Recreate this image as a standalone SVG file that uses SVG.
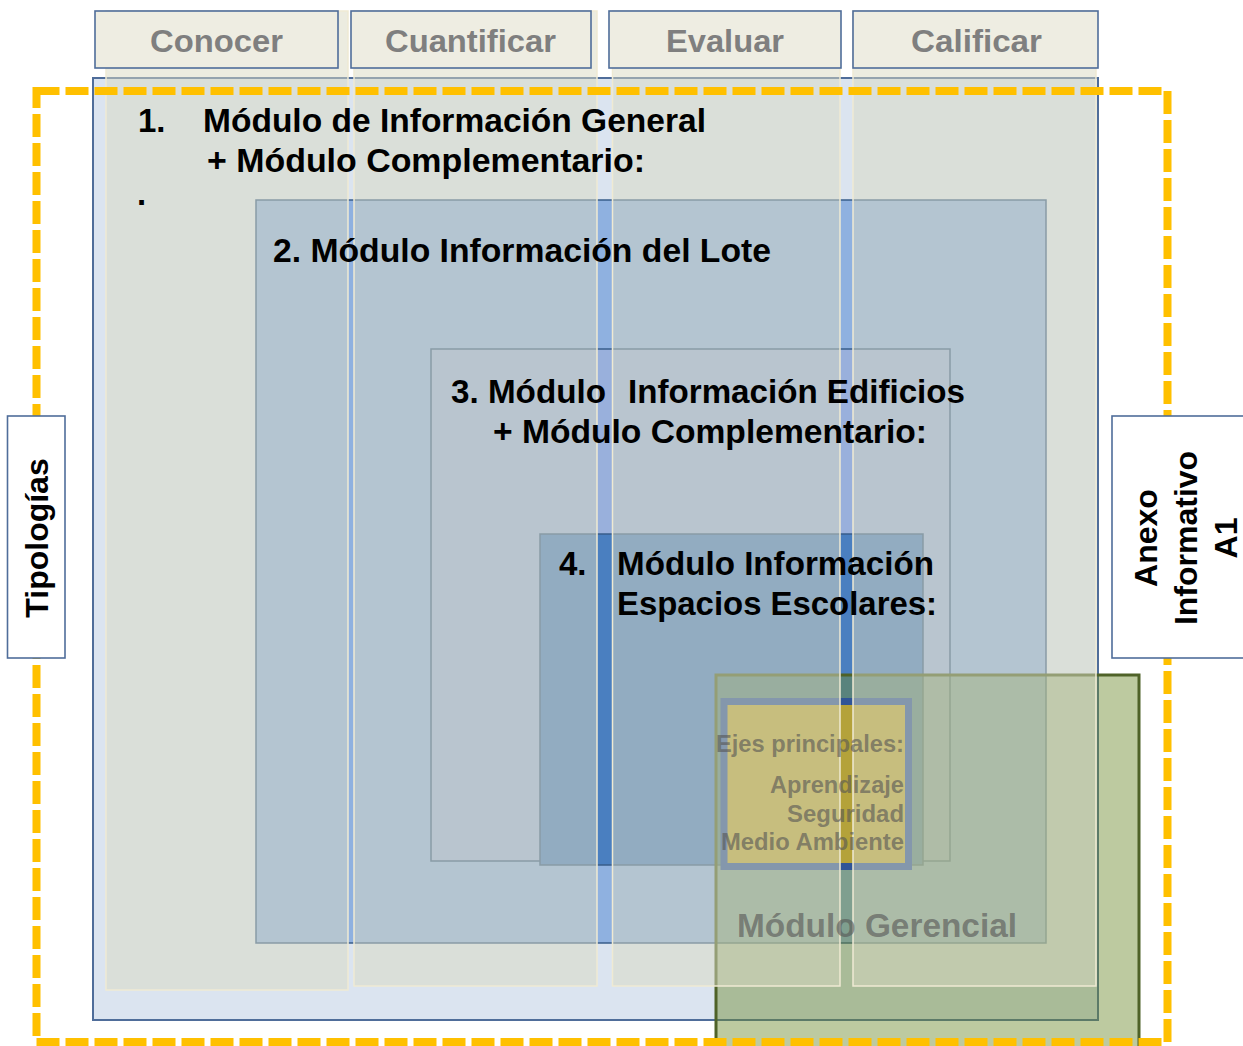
<svg xmlns="http://www.w3.org/2000/svg" width="1243" height="1046" viewBox="0 0 1243 1046">
<defs>
<style>
.hdr{fill:#eeede2;stroke:#4f6d9a;stroke-width:1.6}
.hdrt{font-family:"Liberation Sans",Arial,sans-serif;font-weight:bold;font-size:32px;fill:#7f7f7f}
.mod{stroke:#385d8a;stroke-width:1.5}
.col{fill:#d9dac2;fill-opacity:0.5;stroke:#efead3;stroke-width:1.5}
.t{font-family:"Liberation Sans",Arial,sans-serif;font-weight:bold;font-size:33px;fill:#000}
.g{font-family:"Liberation Sans",Arial,sans-serif;font-weight:bold;fill:#555;fill-opacity:0.62}
.side{fill:#fff;stroke:#4f6d9a;stroke-width:1.6}
.st{font-family:"Liberation Sans",Arial,sans-serif;font-weight:bold;font-size:32px;fill:#000;text-anchor:middle}
</style>
</defs>
<rect width="1243" height="1046" fill="#fff"/>

<g id="module1">
<rect x="93" y="78" width="1005" height="942" fill="#dbe4f0" stroke="#4f6d9a" stroke-width="2"/>
</g>
<g id="module2">
<rect class="mod" x="256" y="200" width="790" height="743" fill="#8fb1e0"/>
</g>
<g id="module3">
<rect class="mod" x="431" y="349" width="519" height="512" fill="#99b0dc"/>
</g>
<g id="module4">
<rect class="mod" x="540" y="534" width="383" height="331" fill="#4a7fc0"/>
</g>
<g id="modulo-gerencial">
<rect x="716" y="675" width="423" height="385" fill="#6c892c" fill-opacity="0.45" stroke="#4f6228" stroke-width="3"/>
</g>
<g id="ejes-principales">
<rect x="724" y="701.5" width="184.5" height="165" fill="#b4a23a" stroke="#2f5496" stroke-width="7"/>
</g>

<g id="columns">
<rect class="col" x="106" y="11" width="242" height="979"/>
<rect class="col" x="354" y="11" width="243" height="975"/>
<rect class="col" x="612.5" y="11" width="227.5" height="975"/>
<rect class="col" x="853" y="11" width="243" height="975"/>
</g>

<g id="headers">
<g id="hdr-conocer"><rect class="hdr" x="95" y="11" width="243" height="57"/><text class="hdrt" x="150" y="52" textLength="133" lengthAdjust="spacingAndGlyphs">Conocer</text></g>
<g id="hdr-cuantificar"><rect class="hdr" x="351" y="11" width="240" height="57"/><text class="hdrt" x="385" y="52" textLength="171" lengthAdjust="spacingAndGlyphs">Cuantificar</text></g>
<g id="hdr-evaluar"><rect class="hdr" x="609" y="11" width="232" height="57"/><text class="hdrt" x="666" y="52" textLength="118" lengthAdjust="spacingAndGlyphs">Evaluar</text></g>
<g id="hdr-calificar"><rect class="hdr" x="853" y="11" width="245" height="57"/><text class="hdrt" x="911" y="52" textLength="131" lengthAdjust="spacingAndGlyphs">Calificar</text></g>
</g>

<g id="module-labels">
<text class="t" x="138" y="132">1.</text>
<text class="t" x="203" y="132" textLength="503" lengthAdjust="spacingAndGlyphs">Módulo de Información General</text>
<text class="t" x="207" y="172" textLength="438" lengthAdjust="spacingAndGlyphs">+ Módulo Complementario:</text>
<text class="t" x="137" y="205" font-size="26">.</text>
<text class="t" x="273" y="262" textLength="498" lengthAdjust="spacingAndGlyphs">2. Módulo Información del Lote</text>
<text class="t" x="451" y="403" textLength="155" lengthAdjust="spacingAndGlyphs">3. Módulo</text>
<text class="t" x="628" y="403" textLength="337" lengthAdjust="spacingAndGlyphs">Información Edificios</text>
<text class="t" x="493" y="443" textLength="434" lengthAdjust="spacingAndGlyphs">+ Módulo Complementario:</text>
<text class="t" x="559" y="575">4.</text>
<text class="t" x="617" y="575" textLength="317" lengthAdjust="spacingAndGlyphs">Módulo Información</text>
<text class="t" x="617" y="615" textLength="320" lengthAdjust="spacingAndGlyphs">Espacios Escolares:</text>
</g>

<g id="gerencial-labels">
<text class="g" font-size="23" x="716" y="752" textLength="188" lengthAdjust="spacingAndGlyphs">Ejes principales:</text>
<text class="g" font-size="23" x="770" y="793" textLength="134" lengthAdjust="spacingAndGlyphs">Aprendizaje</text>
<text class="g" font-size="23" x="787" y="822" textLength="117" lengthAdjust="spacingAndGlyphs">Seguridad</text>
<text class="g" font-size="23" x="721" y="850" textLength="183" lengthAdjust="spacingAndGlyphs">Medio Ambiente</text>
<text class="g" font-size="33" x="737" y="937" textLength="280" lengthAdjust="spacingAndGlyphs">Módulo Gerencial</text>
</g>

<g id="connectors"></g>

<g id="boundary">
<rect x="36.5" y="91" width="1131" height="951" fill="none" stroke="#ffc000" stroke-width="8" stroke-dasharray="23 6"/>
</g>

<g id="tipologias">
<rect class="side" x="7.5" y="416" width="57.5" height="242"/>
<text class="st" transform="translate(48,538) rotate(-90)">Tipologías</text>
</g>
<g id="anexo">
<rect class="side" x="1112" y="416" width="140" height="242"/>
<text class="st" transform="translate(1157,538) rotate(-90)">Anexo</text>
<text class="st" transform="translate(1197,538) rotate(-90)">Informativo</text>
<text class="st" transform="translate(1237,538) rotate(-90)">A1</text>
</g>
</svg>
